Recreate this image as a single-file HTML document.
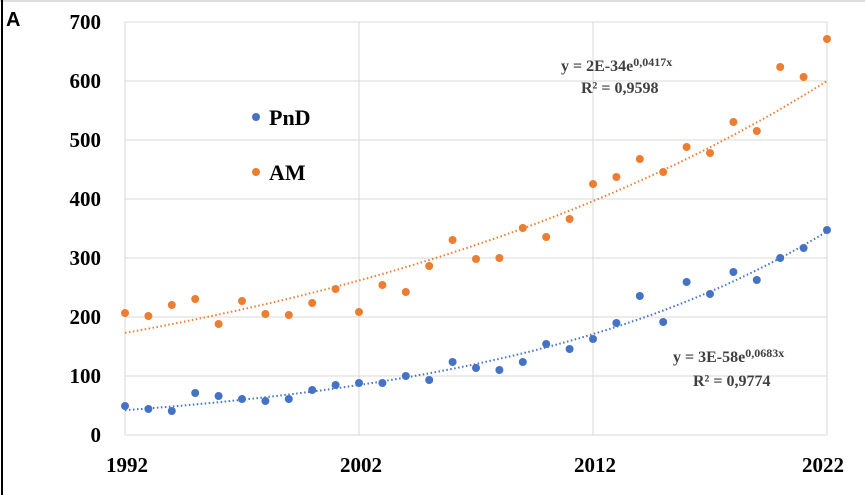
<!DOCTYPE html>
<html><head><meta charset="utf-8"><style>
html,body{margin:0;padding:0;background:#fff;width:865px;height:495px;overflow:hidden}
svg{display:block}
</style></head><body>
<svg id="s" width="865" height="495" xmlns="http://www.w3.org/2000/svg" font-family="Liberation Serif, serif">
<line x1="0" y1="1" x2="865" y2="1" stroke="#ddd" stroke-width="2"/>
<line x1="2" y1="0" x2="2" y2="495" stroke="#000" stroke-width="2"/>
<text x="6" y="26" font-family="Liberation Sans, sans-serif" font-weight="bold" font-size="20">A</text>
<g stroke="#d9d9d9" stroke-width="1" fill="none">
<line x1="125" y1="22" x2="827" y2="22"/>
<line x1="125" y1="81" x2="827" y2="81"/>
<line x1="125" y1="140" x2="827" y2="140"/>
<line x1="125" y1="199" x2="827" y2="199"/>
<line x1="125" y1="258" x2="827" y2="258"/>
<line x1="125" y1="317" x2="827" y2="317"/>
<line x1="125" y1="376" x2="827" y2="376"/>
<line x1="125" y1="435" x2="827" y2="435"/>
<line x1="125" y1="22" x2="125" y2="435"/>
<line x1="359" y1="22" x2="359" y2="435"/>
<line x1="593" y1="22" x2="593" y2="435"/>
<line x1="827" y1="22" x2="827" y2="435"/>
</g>
<g font-weight="bold" font-size="21" text-anchor="end" fill="#000">
<text x="101" y="29">700</text><text x="101" y="88">600</text><text x="101" y="147">500</text>
<text x="101" y="206">400</text><text x="101" y="265">300</text><text x="101" y="324">200</text>
<text x="101" y="383">100</text><text x="101" y="442">0</text>
</g>
<g font-weight="bold" font-size="21" text-anchor="middle" fill="#000">
<text x="127" y="472">1992</text><text x="361" y="472">2002</text><text x="595" y="472">2012</text><text x="823" y="472">2022</text>
</g>
<g id="pts"></g>
<circle cx="256" cy="117" r="4" fill="#4472c4"/>
<text x="269" y="125" font-weight="bold" font-size="22">PnD</text>
<circle cx="256" cy="172" r="4" fill="#ed7d31"/>
<text x="269" y="180" font-weight="bold" font-size="22">AM</text>
<g fill="#404040" font-weight="bold" font-size="16">
<text x="561" y="71">y = 2E-34e<tspan dy="-5" font-size="12">0,0417x</tspan></text>
<text x="581" y="93">R² = 0,9598</text>
<text x="673" y="362">y = 3E-58e<tspan dy="-5" font-size="12">0,0683x</tspan></text>
<text x="693" y="386">R² = 0,9774</text>
</g>
</svg>
<script>
var ns="http://www.w3.org/2000/svg",g=document.getElementById("pts");
function X(i){return 125+i*23.4}
function Y(v){return 435-v*0.59}
function trend(a,b,c){var d="";for(var i=0;i<=60;i++){var t=i/2,v=a*Math.exp(Math.log(b/a)*t/30);d+=(i?"L":"M")+X(t).toFixed(1)+","+Y(v).toFixed(1)}
var p=document.createElementNS(ns,"path");p.setAttribute("d",d);p.setAttribute("fill","none");p.setAttribute("stroke",c);p.setAttribute("stroke-width","2");p.setAttribute("stroke-dasharray","1.5 2.5");g.appendChild(p)}
trend(173,600,"#ed7d31");trend(42,345,"#4472c4");
var pnd=[406,409,411,393,396,399,401,399,390,385,383,383,376,380,362,368,370,362,344,349,339,323,296,322,282,294,272,280,258,248,230];
var am=[313,316,305,299,324,301,314,315,303,289,312,285,292,266,240,259,258,228,237,219,184,177,159,172,147,153,122,131,67,77,39];
function dots(a,c){a.forEach(function(y,i){var e=document.createElementNS(ns,"circle");e.setAttribute("cx",X(i));e.setAttribute("cy",y);e.setAttribute("r","4");e.setAttribute("fill",c);g.appendChild(e)})}
dots(am,"#ed7d31");dots(pnd,"#4472c4");
</script>
</body></html>
